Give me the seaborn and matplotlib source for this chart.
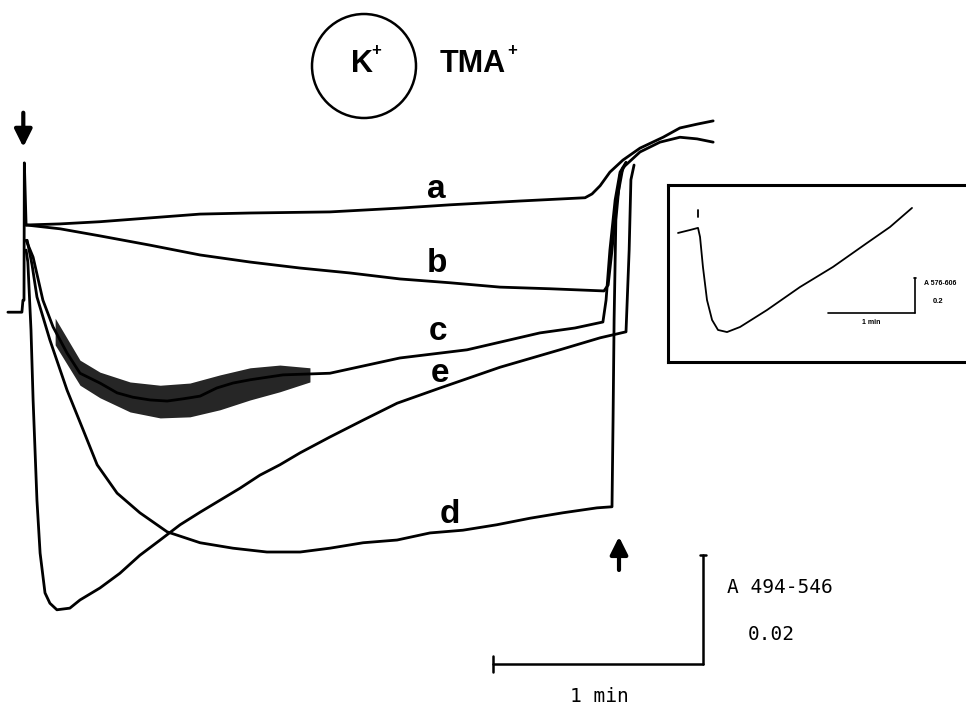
import numpy as np
import pandas as pd
import matplotlib
matplotlib.use("Agg")
import matplotlib.pyplot as plt
import matplotlib.transforms as mtransforms
from matplotlib.patches import Circle
import seaborn as sns

# ============================
# Data: time (s) after addition, absorbance change (x 10^-3)
# ============================
pre_t = [-4.6, -0.6, -0.3, 0.0, 0.1, 0.6]
pre_A = [-16.0, -16.0, -13.8, -13.8, 11.4, 0.0]

a_t = [0.6, 10.3, 21.7, 36.0, 50.3, 64.6, 87.4, 107.4, 121.7, 141.7, 160.3,
       162.3, 164.6, 167.4, 171.1, 176.0, 182.6, 187.4, 192.3, 196.9]
a_A = [0.0, 0.2, 0.6, 1.3, 2.0, 2.2, 2.4, 3.1, 3.7, 4.4, 5.0,
       5.7, 7.2, 9.7, 11.9, 14.1, 16.1, 17.8, 18.5, 19.1]

b_t = [0.6, 10.3, 21.7, 36.0, 50.3, 64.6, 78.9, 93.1, 107.4, 121.7, 136.0, 150.3,
       165.7, 166.9, 168.0, 169.4, 171.1, 176.0, 181.7, 187.4, 192.3, 196.9]
b_A = [0.0, -0.7, -2.0, -3.7, -5.5, -6.8, -7.9, -8.8, -9.9, -10.6, -11.4, -11.7,
       -12.1, -11.0, -4.6, 4.6, 10.5, 13.4, 15.2, 16.1, 15.8, 15.2]

c_t = [0.6, 2.6, 5.4, 8.3, 12.3, 16.0, 21.7, 26.6, 31.1, 36.0, 40.9, 45.4, 50.3,
       55.1, 59.7, 64.6, 74.0, 87.4, 107.4, 126.6, 136.0, 147.4, 157.4, 165.4,
       166.3, 167.4, 168.9, 170.3, 172.0]
c_A = [-2.8, -5.9, -13.8, -18.7, -23.5, -27.2, -29.0, -30.8, -31.6, -32.1, -32.3,
       -31.9, -31.4, -29.9, -29.0, -28.4, -27.5, -27.2, -24.4, -22.9, -21.5, -19.8,
       -18.9, -17.8, -13.8, -4.6, 4.6, 9.7, 11.5]
# noise envelope of trace c
c_band_t = [8.9, 16.0, 21.7, 30.3, 38.9, 47.4, 56.0, 64.6, 73.1, 81.7]
c_band_hi = [-17.1, -24.8, -27.0, -28.8, -29.4, -29.0, -27.5, -26.2, -25.7, -26.2]
c_band_lo = [-22.0, -29.4, -31.7, -34.3, -35.4, -35.2, -33.9, -32.1, -30.6, -28.8]

d_t = [0.9, 2.3, 3.7, 7.4, 12.3, 16.9, 20.9, 26.6, 33.1, 40.9, 50.3, 59.7, 69.4,
       78.9, 87.4, 96.9, 106.6, 116.0, 125.4, 135.1, 144.6, 154.0, 163.7, 168.0,
       168.3, 168.6, 169.1, 170.3, 172.0]
d_A = [-2.8, -7.3, -13.2, -21.1, -30.3, -37.6, -44.0, -49.2, -52.8, -56.3, -58.3,
       -59.3, -60.0, -60.0, -59.3, -58.3, -57.8, -56.5, -56.0, -55.0, -53.8, -52.8,
       -51.9, -51.7, -35.8, -17.4, 0.9, 9.2, 11.4]

e_t = [0.6, 1.1, 2.0, 2.6, 3.7, 4.6, 6.0, 7.4, 9.4, 13.1, 16.0, 21.7, 27.4, 33.1,
       38.9, 44.6, 50.3, 56.0, 61.7, 67.4, 73.1, 78.9, 87.4, 96.9, 106.6, 118.9,
       136.0, 153.1, 164.6, 172.0, 172.9, 173.4, 174.3]
e_A = [-4.6, -6.8, -19.3, -32.1, -50.5, -60.2, -67.5, -69.4, -70.6, -70.3, -68.8,
       -66.6, -63.9, -60.6, -57.8, -55.0, -52.7, -50.5, -48.3, -45.9, -44.0, -41.8,
       -38.9, -35.8, -32.7, -29.9, -26.1, -22.9, -20.7, -19.6, -4.6, 8.3, 11.0]

trace_labels = ["a", "b", "c", "e", "d"]
label_t = [117.7, 118.0, 118.3, 118.9, 121.7]
label_A = [5.0, -8.6, -21.1, -28.8, -54.7]

add_t = 0.0        # addition (down arrow)
wash_t = 170.0     # removal (up arrow)

# inset trace (time s, absorbance)
in_t = [-13.8, -5.5, 0.0, 1.4, 3.4, 6.2, 9.7, 13.8, 20.0, 29.0, 47.6, 70.3,
        93.1, 116.6, 132.4, 147.6]
in_A = [0.0, 0.017, 0.029, -0.023, -0.194, -0.383, -0.497, -0.554, -0.566,
        -0.537, -0.440, -0.309, -0.194, -0.057, 0.034, 0.143]

# ============================
# Figure
# ============================
sns.set_style("white")
plt.rcParams["font.family"] = ["Liberation Sans", "DejaVu Sans"]
plt.rcParams["text.color"] = "black"

fig = plt.figure(figsize=(9.66, 7.08), dpi=100)
ax = fig.add_axes([0, 0, 1, 1])
ax.set_xlim(-6.857, 269.14)
ax.set_ylim(-88.62, 41.28)
ax.axis("off")

traces = [(pre_t, pre_A), (a_t, a_A), (b_t, b_A), (c_t, c_A), (d_t, d_A), (e_t, e_A)]
for t, A in traces:
    sns.lineplot(x=t, y=A, ax=ax, color="black", lw=2.0, sort=False,
                 estimator=None)
ax.fill_between(c_band_t, c_band_lo, c_band_hi, color="black", alpha=0.85, lw=0)

for lab, t, A in zip(trace_labels, label_t, label_A):
    ax.text(t, A, lab, fontsize=24, fontweight="bold", ha="center", va="baseline")

# arrows
arrow = dict(arrowstyle="-|>,head_width=0.35,head_length=0.7", lw=3,
             color="black", mutation_scale=15, shrinkA=0, shrinkB=0)
ax.annotate("", xy=(add_t - 0.2, 14.3), xytext=(add_t - 0.2, 20.6), arrowprops=arrow)
ax.annotate("", xy=(wash_t, -57.2), xytext=(wash_t, -63.3), arrowprops=arrow)

# scale bars: 1 min, 0.02 A
sb_t0, sb_A0 = 134.0, -80.55
sb_dt, sb_dA = 60.0, 20.0
ax.plot([sb_t0, sb_t0 + sb_dt], [sb_A0, sb_A0], color="black", lw=1.8)
ax.plot([sb_t0 + sb_dt, sb_t0 + sb_dt], [sb_A0, sb_A0 + sb_dA], color="black", lw=1.8)
ax.plot([sb_t0, sb_t0], [sb_A0 - 1.5, sb_A0 + 1.5], color="black", lw=1.8)
ax.plot([sb_t0 + sb_dt - 0.8, sb_t0 + sb_dt + 0.8], [sb_A0 + sb_dA] * 2,
        color="black", lw=1.8)
mono = ["DejaVu Sans Mono"]
ax.text(sb_t0 + sb_dt + 6.9, -66.6, "A 494-546", family=mono, fontsize=14,
        ha="left", va="center")
ax.text(sb_t0 + sb_dt + 12.9, -75.2, "0.02", family=mono, fontsize=14,
        ha="left", va="center")
ax.text(sb_t0 + sb_dt / 2 + 0.3, -86.6, "1 min", family=mono, fontsize=14,
        ha="center", va="center")

# circle legend (pixel coordinates from top-left)
px = mtransforms.Affine2D().scale(1 / 966, -1 / 708).translate(0, 1) + fig.transFigure
fig.patches.append(Circle((364, 66), 52, transform=px, fill=False, lw=1.8,
                          color="black"))
fig.text(362, 64, "K", transform=px, fontsize=22, fontweight="bold",
         ha="center", va="center")
fig.text(376, 51, "+", transform=px, fontsize=12, fontweight="bold",
         ha="center", va="center")
fig.text(473, 64, "TMA", transform=px, fontsize=22, fontweight="bold",
         ha="center", va="center")
fig.text(512, 51, "+", transform=px, fontsize=12, fontweight="bold",
         ha="center", va="center")

# ============================
# Inset
# ============================
axi = fig.add_axes([668 / 966, 1 - 362 / 708, 312 / 966, 177 / 708])
axi.set_xlim(-20.7, 194.5)
axi.set_ylim(-0.737, 0.274)
axi.set_xticks([])
axi.set_yticks([])
for s in axi.spines.values():
    s.set_linewidth(2.2)
    s.set_color("black")
sns.lineplot(x=in_t, y=in_A, ax=axi, color="black", lw=1.3, sort=False,
             estimator=None)
axi.plot([0, 0], [0.09, 0.13], color="black", lw=1.3)
isb_t0, isb_A0 = 89.7, -0.457
axi.plot([isb_t0, isb_t0 + 60], [isb_A0, isb_A0], color="black", lw=1.2)
axi.plot([isb_t0 + 60] * 2, [isb_A0, isb_A0 + 0.2], color="black", lw=1.2)
axi.plot([isb_t0 + 59, isb_t0 + 61], [isb_A0 + 0.2] * 2, color="black", lw=1.2)
axi.text(isb_t0 + 66, isb_A0 + 0.17, "A 576-606", fontsize=5, ha="left",
         va="center", fontweight="bold")
axi.text(isb_t0 + 72, isb_A0 + 0.063, "0.2", fontsize=5.5, ha="left",
         va="center", fontweight="bold")
axi.text(isb_t0 + 30, isb_A0 - 0.052, "1 min", fontsize=5, ha="center",
         va="center", fontweight="bold")

fig.savefig("out.png", dpi=100)
